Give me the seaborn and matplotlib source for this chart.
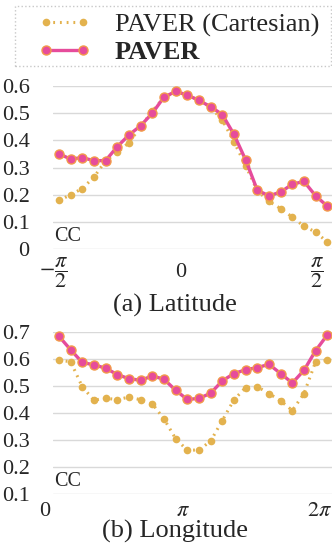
import numpy as np
import pandas as pd
import seaborn as sns
import matplotlib.pyplot as plt
from matplotlib.patches import Rectangle

# 24 bins along each direction (category positions)
bins = list(range(24))

lat_cart = [0.179, 0.200, 0.223, 0.265, 0.325, 0.356, 0.392, 0.450, 0.508, 0.558,
            0.578, 0.567, 0.547, 0.522, 0.475, 0.395, 0.307, 0.215, 0.176, 0.149,
            0.118, 0.084, 0.063, 0.026]
lat_paver = [0.351, 0.331, 0.337, 0.325, 0.326, 0.377, 0.420, 0.454, 0.500, 0.559,
             0.580, 0.567, 0.547, 0.524, 0.495, 0.422, 0.328, 0.217, 0.196, 0.210,
             0.239, 0.249, 0.196, 0.158]

lon_cart = [0.596, 0.591, 0.498, 0.448, 0.456, 0.450, 0.460, 0.450, 0.435, 0.379,
            0.306, 0.263, 0.264, 0.297, 0.373, 0.450, 0.495, 0.498, 0.473, 0.446,
            0.410, 0.473, 0.591, 0.596]
lon_paver = [0.685, 0.635, 0.588, 0.579, 0.567, 0.543, 0.528, 0.522, 0.538, 0.526,
             0.485, 0.451, 0.455, 0.474, 0.520, 0.547, 0.561, 0.569, 0.581, 0.547,
             0.512, 0.559, 0.632, 0.690]

lat_ticks = [(-0.45, r'$-\dfrac{\pi}{2}$'), (10.4, '0'), (22.1, r'$\dfrac{\pi}{2}$')]
lon_ticks = [(-1.22, '0'), (10.66, r'$\pi$'), (22.3, r'$2\pi$')]

sns.set_theme(style="white")
plt.rcParams['font.family'] = ['Liberation Serif', 'DejaVu Serif']
plt.rcParams['mathtext.fontset'] = 'stix'

orange = '#E3B24E'
pink = '#E64C9B'
edge = '#F29A4A'

fig = plt.figure(figsize=(3.32, 5.50), dpi=100)
ax1 = fig.add_axes([0.16, 0.547, 0.84, 0.2966])
ax2 = fig.add_axes([0.16, 0.1013, 0.84, 0.2947])


def draw(ax, cart, paver, ylim, ticks, title, title_y, lab_off):
    df = pd.DataFrame({'bin': bins, 'cart': cart, 'paver': paver})
    sns.lineplot(data=df, x='bin', y='cart', ax=ax, color=orange, linestyle=(0, (0.6, 1.6)),
                 linewidth=2.2, marker='o', markersize=5.5, markeredgewidth=0,
                 label='PAVER (Cartesian)', clip_on=False, zorder=3)
    sns.lineplot(data=df, x='bin', y='paver', ax=ax, color=pink, linewidth=2.4,
                 marker='o', markersize=6.5, markeredgecolor=edge, markeredgewidth=1,
                 label='PAVER', clip_on=False, zorder=4)
    ax.set_xlim(-0.5, 23.4)
    ax.set_ylim(*ylim)
    ax.set_yticks(np.round(np.arange(ylim[0], ylim[1] + 0.01, 0.1), 1))
    ax.set_yticklabels(['0' if v == 0 else f'{v:.1f}' for v in ax.get_yticks()], fontsize=16)
    ax.tick_params(axis='y', length=0, pad=17)
    ax.set_xticks([])
    ax.grid(axis='y', color='#d9d9d9', linewidth=1)
    for s in ax.spines.values():
        s.set_visible(False)
    ax.set_xlabel('')
    ax.set_ylabel('')
    ax.get_legend().remove()
    for x, t in ticks:
        ax.text(x, -lab_off, t, transform=ax.get_xaxis_transform(), ha='center', va='center',
                fontsize=16)
    ax.text(0.005, 0.077, 'CC', transform=ax.transAxes, ha='left', va='center', fontsize=14.5)
    fig.text(175 / 332, title_y, title, ha='center', va='center', fontsize=19)


draw(ax1, lat_cart, lat_paver, (0, 0.6), lat_ticks, '(a) Latitude', 1 - 305 / 550, 0.145)
draw(ax2, lon_cart, lon_paver, (0.1, 0.7), lon_ticks, '(b) Longitude', 1 - 531 / 550, 0.105)

h, l = ax1.get_legend_handles_labels()
leg = fig.legend(h, l, loc='upper left', bbox_to_anchor=(38 / 332, 1 - 13 / 550),
                 fontsize=19, frameon=False, handlelength=2.0,
                 handletextpad=0.9, labelspacing=0.15, borderpad=0, borderaxespad=0,
                 numpoints=2)
leg.get_texts()[1].set_fontweight('bold')
fig.patches.append(Rectangle((15 / 332, 1 - 66 / 550), 316 / 332, 60 / 550,
                             transform=fig.transFigure, fill=False, linestyle=':',
                             edgecolor='#c8c8c8', linewidth=1))

fig.savefig('out.png', dpi=100)
